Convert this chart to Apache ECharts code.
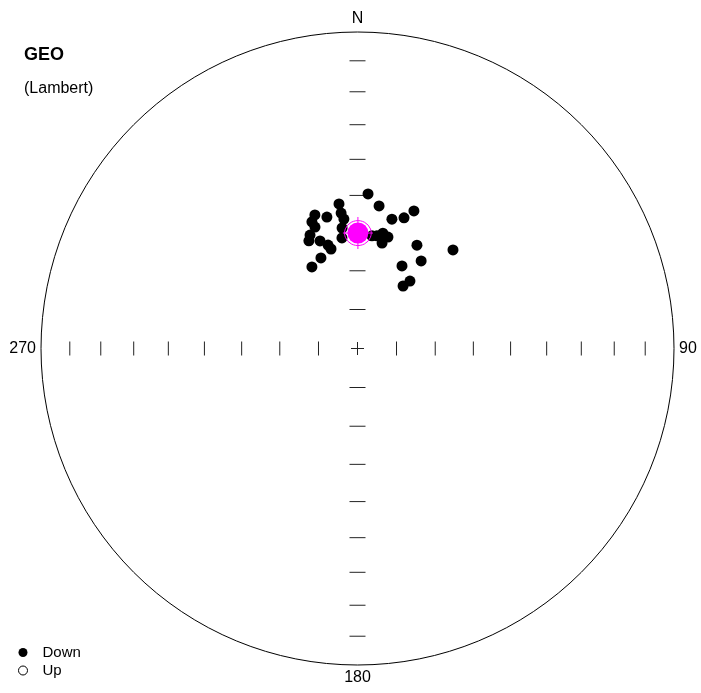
<!DOCTYPE html>
<html>
<head>
<meta charset="utf-8">
<script src="https://cdn.jsdelivr.net/npm/echarts@6/dist/echarts.min.js"></script>
<style>
  html, body { margin: 0; padding: 0; background: #fff; }
  #chart { width: 701px; height: 693px; }
</style>
</head>
<body>
<div id="chart"></div>
<script>
// Site-mean directions (geographic coordinates): declination and inclination in degrees, positive inclination = down
const siteDec = [3.9, 8.6, 352.7, 342.3, 346.9, 353.1, 354.0, 340.2, 14.9, 19.6, 22.3, 340.7, 337.3, 335.7, 340.8, 344.1,
                 345.1, 352.0, 352.7, 12.4, 15.3, 13.1, 9.8, 29.9, 44.1, 36.0, 28.3, 37.9, 36.1, 338.0, 330.8, 7.3];
const siteInc = [49.5, 52.4, 52.0, 53.5, 54.9, 54.5, 56.2, 55.0, 55.2, 53.9, 51.2, 56.6, 58.1, 59.4, 60.5, 62.2,
                 63.4, 61.1, 58.5, 59.4, 60.1, 62.0, 60.4, 59.1, 54.3, 62.0, 65.8, 68.0, 70.1, 64.8, 65.9, 60.6];

// Fisher mean and its 95% confidence cone
const meanDec = 0.2;
const meanInc = 60.1;
const meanA95 = 3.3;

// Inclination graduations along the four cardinal arms
const tickIncs = [10, 20, 30, 40, 50, 60, 70, 80];
const armDecs = [0, 90, 180, 270];
const dirNames = { 0: 'N', 90: '90', 180: '180', 270: '270' };

const FONT = "'Liberation Sans', Arial, sans-serif";
const D2R = Math.PI / 180;

// Lambert equal-area projection: normalised distance from the centre for a given inclination
function eqArea(inc) {
  return Math.sqrt(1 - Math.sin(Math.abs(inc) * D2R));
}

const downData = siteDec.map((d, i) => [eqArea(siteInc[i]), d]);

// Graduation marks: short bars across each arm, plus the centre cross
const tickData = [];
armDecs.forEach(a => {
  const size = (a === 90 || a === 270) ? [1, 14] : [16, 1];
  tickIncs.forEach(inc => tickData.push({ value: [eqArea(inc), a], symbolSize: size }));
});
tickData.push({ value: [0, 0], symbolSize: [13, 1] });
tickData.push({ value: [0, 0], symbolSize: [1, 13] });

// Confidence cone traced on the sphere around the mean direction
function coneRing(dec, inc, a95) {
  const D = dec * D2R, I = inc * D2R, A = a95 * D2R;
  const m = [Math.cos(I) * Math.cos(D), Math.cos(I) * Math.sin(D), Math.sin(I)];
  const u = [-Math.sin(I) * Math.cos(D), -Math.sin(I) * Math.sin(D), Math.cos(I)];
  const v = [-Math.sin(D), Math.cos(D), 0];
  const pts = [];
  for (let t = 0; t <= 360; t += 10) {
    const T = t * D2R;
    const p = [0, 1, 2].map(k => Math.cos(A) * m[k] + Math.sin(A) * (Math.cos(T) * u[k] + Math.sin(T) * v[k]));
    const pi = Math.asin(p[2]) / D2R;
    let pd = Math.atan2(p[1], p[0]) / D2R;
    if (pd < 0) pd += 360;
    pts.push([eqArea(pi), pd]);
  }
  return pts;
}

const meanPos = [eqArea(meanInc), meanDec];

const chart = echarts.init(document.getElementById('chart'), null, { renderer: 'canvas' });

chart.setOption({
  animation: false,
  backgroundColor: '#fff',
  textStyle: { fontFamily: FONT },
  title: [
    { text: 'GEO', left: 24, top: 46, padding: 0,
      textStyle: { fontFamily: FONT, fontSize: 18, fontWeight: 'bold', color: '#000' } },
    { text: '(Lambert)', left: 24, top: 81, padding: 0,
      textStyle: { fontFamily: FONT, fontSize: 16, fontWeight: 'normal', color: '#000' } }
  ],
  legend: {
    orient: 'vertical',
    left: 13,
    top: 640,
    itemWidth: 9,
    itemHeight: 9,
    itemGap: 3,
    selectedMode: false,
    textStyle: { fontFamily: FONT, fontSize: 15, color: '#000', padding: [0, 0, 0, 10] },
    data: [
      { name: 'Down', icon: 'circle', itemStyle: { color: '#000', opacity: 1 } },
      { name: 'Up', icon: 'circle', itemStyle: { color: '#fff', borderColor: '#000', borderWidth: 1, opacity: 1 } }
    ]
  },
  polar: { center: [357.5, 348.5], radius: 316.5 },
  angleAxis: {
    type: 'value',
    min: 0,
    max: 360,
    interval: 90,
    startAngle: 90,
    clockwise: true,
    axisLine: { lineStyle: { color: '#000', width: 1 } },
    axisTick: { show: false },
    splitLine: { show: false },
    axisLabel: {
      margin: 5,
      color: '#000',
      fontFamily: FONT,
      fontSize: 16,
      formatter: v => (dirNames[v] !== undefined ? dirNames[v] : '')
    }
  },
  radiusAxis: { type: 'value', min: 0, max: 1, show: false },
  series: [
    {
      name: 'graduations',
      type: 'scatter',
      coordinateSystem: 'polar',
      symbol: 'rect',
      z: 1,
      silent: true,
      itemStyle: { color: '#222', opacity: 1 },
      data: tickData
    },
    {
      name: 'Down',
      type: 'scatter',
      coordinateSystem: 'polar',
      symbol: 'circle',
      symbolSize: 11,
      z: 2,
      itemStyle: { color: '#000', opacity: 1 },
      data: downData
    },
    {
      name: 'Up',
      type: 'scatter',
      coordinateSystem: 'polar',
      symbol: 'circle',
      symbolSize: 11,
      z: 2,
      itemStyle: { color: '#fff', borderColor: '#000', borderWidth: 1, opacity: 1 },
      data: []
    },
    {
      name: 'a95',
      type: 'line',
      coordinateSystem: 'polar',
      showSymbol: false,
      symbol: 'none',
      z: 3,
      silent: true,
      lineStyle: { color: '#ff00ff', width: 1 },
      data: coneRing(meanDec, meanInc, meanA95)
    },
    {
      name: 'meanCross',
      type: 'scatter',
      coordinateSystem: 'polar',
      symbol: 'rect',
      z: 3,
      silent: true,
      itemStyle: { color: '#ff00ff', opacity: 1 },
      data: [
        { value: meanPos, symbolSize: [30, 1] },
        { value: meanPos, symbolSize: [1, 32] }
      ]
    },
    {
      name: 'mean',
      type: 'scatter',
      coordinateSystem: 'polar',
      symbol: 'circle',
      symbolSize: 21,
      z: 4,
      silent: true,
      itemStyle: { color: '#ff00ff', opacity: 1 },
      data: [meanPos]
    }
  ]
});
</script>
</body>
</html>
